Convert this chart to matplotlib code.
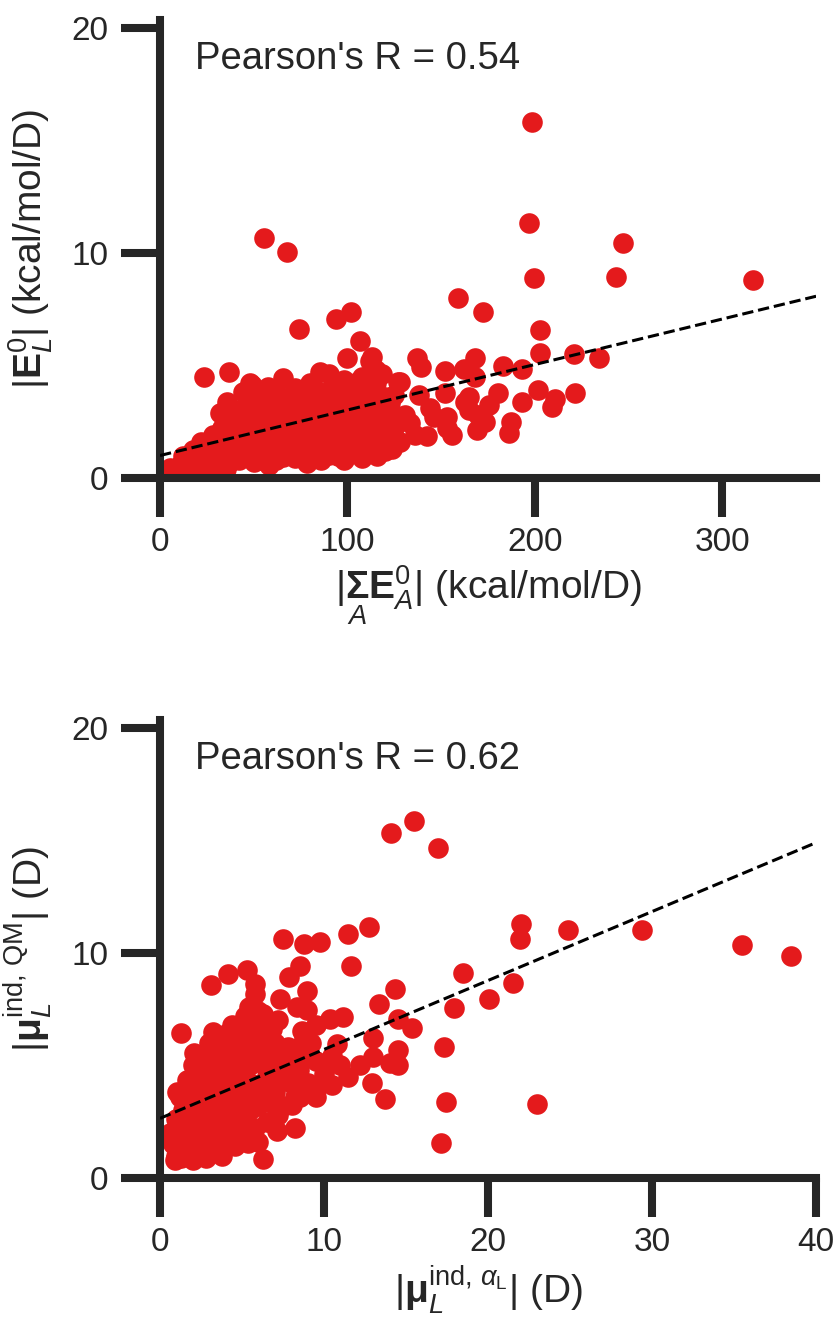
import numpy as np
import matplotlib
matplotlib.use("Agg")
import matplotlib.pyplot as plt

plt.rcParams['font.family'] = ['Liberation Sans', 'DejaVu Sans']
plt.rcParams['mathtext.fontset'] = 'custom'
plt.rcParams['mathtext.rm'] = 'Liberation Sans'
plt.rcParams['mathtext.it'] = 'Liberation Sans:italic'
plt.rcParams['mathtext.bf'] = 'Liberation Sans:bold'

# top panel: |sum E_A^0| vs |E_L^0|
top_pts = [
    (198.3, 15.8), (196.6, 11.3), (246.8, 10.43), (199.5, 8.86), (243.3, 8.93), (316.6, 8.78),
    (158.9, 8.0), (172.5, 7.39), (202.7, 6.59), (202.5, 5.53), (220.9, 5.5), (234.4, 5.31),
    (137, 5.31), (139.2, 4.94), (152.2, 4.76), (167.8, 5.31), (162, 4.86), (168.2, 4.49),
    (183, 4.98), (193.1, 4.82), (128.1, 4.27), (137.9, 3.68), (152.2, 3.76), (164.6, 3.61),
    (180.1, 3.76), (201.4, 3.93), (221.4, 3.78), (193.1, 3.38), (210.5, 3.49), (209.1, 3.16),
    (175.3, 3.24), (164.6, 3.02), (130.8, 2.79), (144.2, 3.09), (153.1, 2.72), (169.9, 2.79),
    (173.5, 2.5), (169.1, 2.13), (187.2, 2.5), (186.3, 2.01), (136.1, 1.91), (142.4, 1.86),
    (155.7, 1.91), (153.1, 2.2), (133.5, 2.43), (145.9, 2.72), (162.8, 3.38),
    (55.5, 10.64), (67.8, 10.02), (102.1, 7.35), (93.8, 7.04), (74.4, 6.62), (106.8, 6.1),
    (23.3, 4.48), (36.7, 4.71), (99.7, 5.31), (113, 5.36), (85.4, 4.71), (65.8, 4.42),
    (49, 4.15), (127.2, 4.25), (118.4, 4.64), (97.9, 4.35), (32, 2.87), (35.6, 3.38),
    (57.8, 4.05), (69.4, 3.53), (76.5, 3.16), (48, 3.31), (90.8, 3.9), (108.5, 3.61),
    (122.8, 3.31), (121.9, 1.76), (112.1, 1.17), (103.2, 1.24), (89.9, 1.02), (78.3, 0.65),
    (65.8, 0.94), (53.4, 0.8), (37.4, 0.72), (23.1, 0.65), (10.7, 0.58), (5.3, 0.43),
    (17.8, 1.24), (30.3, 1.69), (39.1, 1.54), (44.5, 2.43), (58.7, 2.72), (71.2, 2.05),
    (80.1, 1.83), (94.3, 2.27), (101.4, 3.02), (110.4, 2.43), (119.2, 2.57), (48, 1.39),
    (57, 1.54), (65.8, 1.83), (83.7, 1.24), (92.5, 1.54), (105, 1.83), (42.7, 1.83),
    (45, 3.0), (52, 2.2), (60, 3.4), (62, 2.0), (66, 2.6), (70, 3.0), (75, 2.3), (78, 2.8),
    (82, 3.3), (85, 2.5), (88, 2.0), (92, 2.9), (96, 3.4), (98, 2.4), (100, 1.9), (104, 2.7),
    (108, 2.1), (112, 3.2), (115, 2.5), (118, 1.9), (125, 2.2), (128, 1.6), (55, 1.0),
    (60, 1.4), (68, 1.2), (72, 0.9), (85, 1.6), (95, 1.0), (110, 1.6), (40, 2.2), (35, 1.2),
    (28, 0.9), (15, 0.8), (8, 0.3), (12, 1.0), (25, 1.3), (50, 1.8), (75, 1.5), (88, 3.6),
    (62, 3.8), (80, 4.2), (72, 4.0), (90, 4.6), (100, 4.0), (115, 4.2), (120, 3.6),
    (56, 3.0), (44, 3.8), (105, 3.5), (66, 3.4), (48, 4.2), (112, 5.2), (115, 4.8), (108, 4.5),
    (20, 0.9), (25, 0.5), (30, 0.6), (33, 1.0), (38, 1.1), (42, 0.8), (45, 1.1), (50, 0.7),
    (52, 1.2), (58, 0.6), (62, 0.8), (64, 1.1), (70, 1.5), (76, 1.1), (80, 0.9), (86, 0.8),
    (90, 1.4), (96, 1.4), (98, 0.8), (106, 1.1), (108, 0.9), (114, 1.4), (116, 1.0), (120, 1.2),
    (124, 1.3), (127, 2.5), (124, 2.9), (118, 2.9), (113, 2.0), (106, 2.3), (102, 2.0), (97, 1.9),
    (93, 2.0), (89, 2.4), (85, 2.1), (81, 2.3), (77, 1.9), (73, 2.6), (69, 2.3), (64, 2.3),
    (61, 2.6), (55, 2.5), (51, 2.7), (47, 2.3), (43, 1.4), (38, 2.6), (33, 2.2), (28, 1.9),
    (22, 1.6), (18, 0.7), (14, 0.4), (20, 0.3), (35, 0.4), (55, 1.9), (66, 3.0), (74, 3.4),
    (83, 3.9), (95, 3.8), (104, 4.2), (112, 3.9), (125, 3.7), (86, 3.2), (78, 3.6), (58, 3.4),
    (52, 3.8), (40, 3.0), (100, 2.6), (94, 3.1), (117, 3.3), (109, 3.0), (121, 2.2), (72, 1.8),
]

# bottom panel: |mu_L^ind,alpha| vs |mu_L^ind,QM|
bot_pts = [
    (15.49, 15.85), (14.1, 15.3), (16.97, 14.63), (22.01, 11.26), (21.95, 10.63), (24.9, 11.0),
    (29.41, 11.0), (35.5, 10.36), (38.5, 9.84), (18.5, 9.1), (21.5, 8.66), (20.08, 7.97),
    (17.95, 7.57), (14.3, 8.4), (15.35, 6.64), (14.5, 5.68), (17.34, 5.82), (17.42, 3.36),
    (22.97, 3.28), (17.11, 1.54), (14.5, 5.0),
    (7.48, 10.63), (8.78, 10.41), (9.76, 10.48), (11.48, 10.85), (12.74, 11.14), (11.65, 9.4),
    (8.54, 9.4), (7.89, 8.93), (5.33, 9.25), (4.17, 9.05), (3.11, 8.59), (5.79, 8.63),
    (5.79, 8.15), (8.94, 8.31), (7.32, 7.97), (13.37, 7.72), (1.28, 6.42), (2.09, 5.53),
    (6.3, 7.3), (8.33, 7.6), (8.94, 7.45), (10.37, 7.08), (11.18, 7.15), (10.77, 5.97),
    (13.0, 6.2), (14.53, 7.04), (14.02, 5.09), (13.0, 5.38), (12.2, 5.01), (11.48, 4.49),
    (10.47, 4.12), (9.55, 4.05), (12.91, 4.2), (13.72, 3.49), (8.23, 5.09), (8.54, 3.61),
    (8.03, 3.24), (8.23, 2.2), (7.11, 2.1), (6.3, 0.83), (6.0, 1.61), (5.39, 1.54),
    (3.86, 1.32), (2.64, 1.17), (0.91, 0.8), (0.61, 1.98), (1.02, 3.83), (1.63, 4.35),
    (2.03, 3.46), (3.05, 3.76), (8.66, 6.52),
    (2.5, 2.0), (3.0, 2.6), (3.5, 3.0), (4.0, 3.5), (4.5, 4.0), (5.0, 4.5), (5.5, 5.0),
    (6.0, 5.5), (4.0, 5.0), (3.5, 4.4), (3.0, 4.0), (2.5, 3.0), (1.5, 2.5), (1.2, 1.5),
    (2.0, 1.2), (3.0, 1.5), (4.0, 2.2), (5.0, 2.8), (6.0, 3.2), (7.0, 3.8), (7.5, 4.5),
    (6.5, 4.8), (5.5, 6.0), (4.5, 6.2), (5.0, 6.8), (6.0, 6.5), (7.0, 6.0), (6.8, 5.2),
    (4.8, 5.5), (3.8, 6.0), (3.2, 5.2), (2.8, 4.8), (2.2, 4.2), (1.8, 3.2), (1.0, 2.6),
    (4.2, 2.8), (5.2, 3.6), (6.2, 4.2), (7.2, 2.8), (5.8, 2.2), (4.6, 1.8), (3.6, 2.0),
    (8.0, 4.2), (8.5, 4.8), (9.0, 4.2), (7.8, 5.8), (8.8, 6.3), (9.5, 6.8), (5.2, 7.2),
    (6.0, 7.4), (4.4, 6.8), (3.0, 6.0), (2.0, 5.0), (6.5, 3.6), (7.5, 3.2), (5.5, 4.2),
    (3.3, 3.5), (2.2, 2.2), (1.5, 1.0), (0.8, 1.5), (1.3, 0.9),
    (1.0, 1.0), (1.5, 1.8), (2.0, 2.6), (2.5, 1.5), (3.0, 2.0), (3.5, 2.5), (4.0, 3.0),
    (4.5, 3.3), (5.0, 3.8), (5.5, 3.0), (6.0, 3.8), (6.5, 4.2), (7.0, 4.6), (7.5, 5.2),
    (8.0, 5.5), (8.5, 5.8), (9.0, 5.5), (9.5, 5.2), (10.0, 5.0), (6.2, 6.0), (6.8, 6.6),
    (7.2, 7.0), (5.8, 5.4), (5.2, 5.8), (4.6, 5.0), (4.2, 4.5), (3.6, 3.8), (3.0, 3.3),
    (2.6, 3.8), (2.2, 3.2), (1.8, 2.0), (1.4, 3.0), (3.8, 4.8), (4.3, 5.6), (3.5, 5.6),
    (4.0, 6.4), (4.8, 6.6), (5.6, 6.6), (6.4, 7.0), (5.4, 7.6), (6.6, 5.8), (7.4, 5.5),
    (7.8, 4.8), (8.2, 3.6), (7.0, 3.2), (6.5, 2.5), (5.2, 2.2), (4.4, 2.4), (3.3, 1.2),
    (2.0, 0.8), (2.8, 0.9), (3.8, 1.0), (4.6, 1.4), (5.0, 1.8), (1.2, 3.6), (1.8, 4.0),
    (2.4, 4.6), (2.6, 5.5), (3.2, 6.5), (9.2, 6.0), (10.5, 5.4), (11.0, 5.0), (10.0, 4.6),
    (8.8, 3.9), (9.5, 3.6),
]

# regression lines (intercept, slope)
top_fit = (1.0, 0.0202)
bot_fit = (2.65, 0.306)
top_r = "Pearson's R = 0.54"
bot_r = "Pearson's R = 0.62"

top_xticks = [0, 100, 200, 300]
bot_xticks = [0, 10, 20, 30, 40]
yticks = [0, 10, 20]

dark = '#262626'
red = '#e41a1c'

fig = plt.figure(figsize=(8.37, 13.22), dpi=100)
ax1 = fig.add_axes([0.1912, 0.6384, 0.7838, 0.3464])
ax2 = fig.add_axes([0.1912, 0.1089, 0.7838, 0.3464])

panels = [
    (ax1, top_pts, top_fit, top_r, (0, 350), top_xticks,
     r'$|\underset{A}{\mathbf{\Sigma}}\mathbf{E}_A^0|$ (kcal/mol/D)', r'$|\mathbf{E}_L^0|$ (kcal/mol/D)'),
    (ax2, bot_pts, bot_fit, bot_r, (0, 40), bot_xticks,
     r'$|\mathbf{\mu}_L^{\mathrm{ind},\,\alpha_\mathrm{L}}|$ (D)',
     r'$|\mathbf{\mu}_L^{\mathrm{ind,\,QM}}|$ (D)'),
]

for ax, pts, fit, rtxt, xlim, xticks, xlab, ylab in panels:
    xs = [p[0] for p in pts]
    ys = [p[1] for p in pts]
    ax.scatter(xs, ys, s=220, color=red, linewidths=0, zorder=2)
    ax.axline((0, fit[0]), slope=fit[1], color='black', ls='--', lw=2.2, zorder=3)
    ax.set_xlim(*xlim)
    ax.set_ylim(0, 20.33)
    ax.set_xticks(xticks)
    ax.set_yticks(yticks)
    for s in ['top', 'right']:
        ax.spines[s].set_visible(False)
    for s in ['left', 'bottom']:
        ax.spines[s].set_linewidth(5.8)
        ax.spines[s].set_color(dark)
    ax.tick_params(length=28, width=5.8, color=dark, labelcolor=dark, labelsize=24)
    ax.tick_params(axis='y', pad=9)
    ax.tick_params(axis='x', pad=7)
    ax.set_xlabel(xlab, fontsize=28, color=dark, labelpad=4)
    ax.set_ylabel(ylab, fontsize=28, color=dark, labelpad=12)
    ax.text(0.053, 0.955, rtxt, transform=ax.transAxes, fontsize=27.5,
            color=dark, va='top', ha='left')

fig.savefig('out.png', dpi=100)
